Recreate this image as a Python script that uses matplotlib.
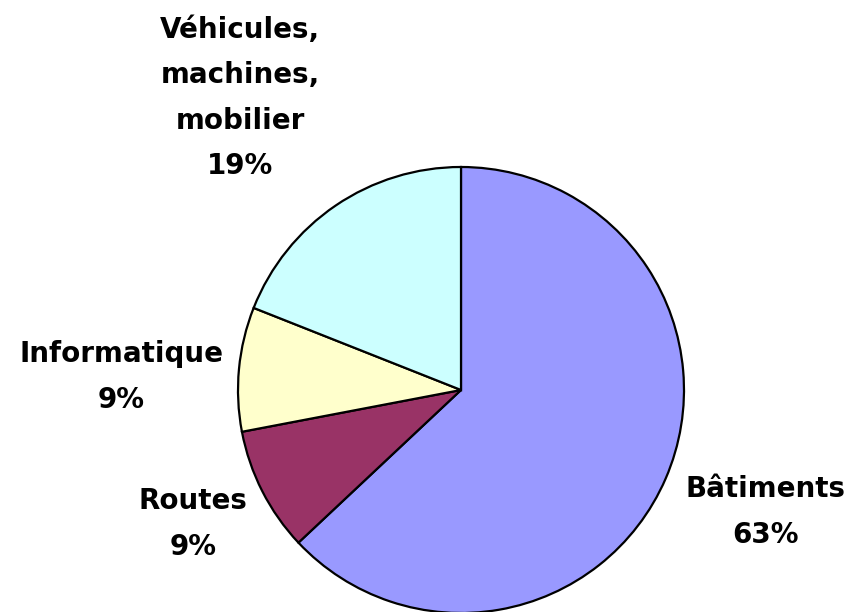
import matplotlib.pyplot as plt

# data
names = ['Bâtiments', 'Routes', 'Informatique', 'Véhicules,\nmachines,\nmobilier']
shares = [63, 9, 9, 19]
colors = ['#9999FF', '#993366', '#FFFFCC', '#CCFFFF']

plt.rcParams['font.family'] = ['DejaVu Sans']

W, H = 849, 612
fig = plt.figure(figsize=(W / 100, H / 100), dpi=100)

# pie: centre ~ (461, 390) px, radius ~ 223 px
cx, cy, r = 461, 390, 223
ax = fig.add_axes([(cx - r) / W, (H - cy - r) / H, 2 * r / W, 2 * r / H])
ax.pie(shares, colors=colors, startangle=90, counterclock=False,
       wedgeprops=dict(edgecolor='black', linewidth=1.6))
ax.set_xlim(-1, 1)
ax.set_ylim(-1, 1)
ax.set_aspect('equal')
ax.axis('off')

# label centres in pixels (x, y from top)
label_pos = [(765, 512), (193, 524), (121, 377), (240, 98)]
for name, pct, (lx, ly) in zip(names, shares, label_pos):
    fig.text(lx / W, 1 - ly / H, f'{name}\n{pct}%', ha='center', va='center',
             multialignment='center', fontsize=20, fontweight='bold',
             linespacing=1.8)

fig.savefig('out.png', dpi=100)
